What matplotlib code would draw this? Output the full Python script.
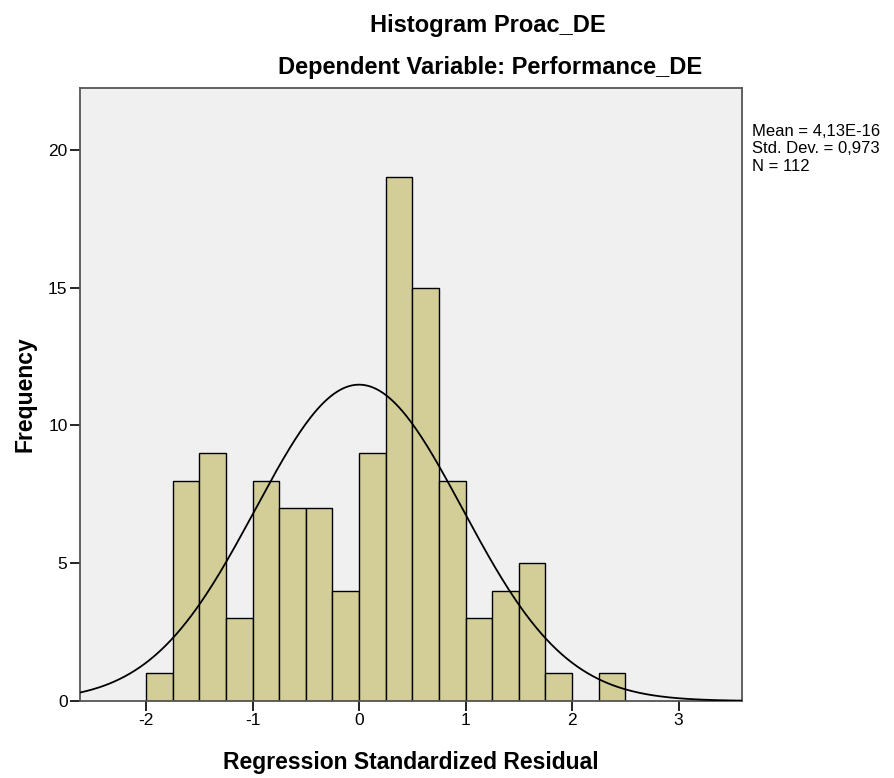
import numpy as np
import matplotlib.pyplot as plt

plt.rcParams['font.family'] = ['Liberation Sans', 'DejaVu Sans']
plt.rcParams['axes.unicode_minus'] = False

# histogram of standardized residuals, bins of width 0.25
bin_edges = [-2.0, -1.75, -1.5, -1.25, -1.0, -0.75, -0.5, -0.25, 0.0,
             0.25, 0.5, 0.75, 1.0, 1.25, 1.5, 1.75, 2.0, 2.25, 2.5]
counts = [1, 8, 9, 3, 8, 7, 7, 4, 9, 19, 15, 8, 3, 4, 5, 1, 0, 1]

mean_val = 4.13e-16
std_val = 0.973
n_obs = 112

x_ticks = [-2, -1, 0, 1, 2, 3]
y_ticks = [0, 5, 10, 15, 20]

fig = plt.figure(figsize=(8.94, 7.78), dpi=100)
ax = fig.add_axes([0.0895, 0.099, 0.741, 0.788])
ax.set_facecolor('#f0f0f0')

edges = np.array(bin_edges)
widths = np.diff(edges)
ax.bar(edges[:-1], counts, width=widths, align='edge',
       color='#d3ce97', edgecolor='black', linewidth=1.0, zorder=2)

# normal curve scaled to counts
xs = np.linspace(-2.7, 3.7, 400)
bw = widths[0]
ys = n_obs * bw * np.exp(-0.5 * ((xs - mean_val) / std_val) ** 2) / (std_val * np.sqrt(2 * np.pi))
ax.plot(xs, ys, color='black', linewidth=1.3, zorder=3)

ax.set_xlim(-2.62, 3.6)
ax.set_ylim(0, 22.25)
ax.set_xticks(x_ticks)
ax.set_yticks(y_ticks)
ax.tick_params(axis='both', direction='out', length=7, width=1.2, labelsize=12.5,
               colors='black', top=False, right=False, pad=2)
for s in ax.spines.values():
    s.set_color('#555555')
    s.set_linewidth(1.3)

ax.set_xlabel('Regression Standardized Residual', fontsize=16.5, fontweight='bold', labelpad=16)
ax.set_ylabel('Frequency', fontsize=16.5, fontweight='bold', labelpad=8)

fig.text(0.546, 0.967, 'Histogram Proac_DE', ha='center', va='center',
         fontsize=17, fontweight='bold')
fig.text(0.548, 0.913, 'Dependent Variable: Performance_DE', ha='center', va='center',
         fontsize=17, fontweight='bold')

stats = 'Mean = 4,13E-16\nStd. Dev. = 0,973\nN = %d' % n_obs
fig.text(0.841, 0.841, stats, ha='left', va='top', fontsize=12, linespacing=1.22)

fig.savefig('out.png', dpi=100)
